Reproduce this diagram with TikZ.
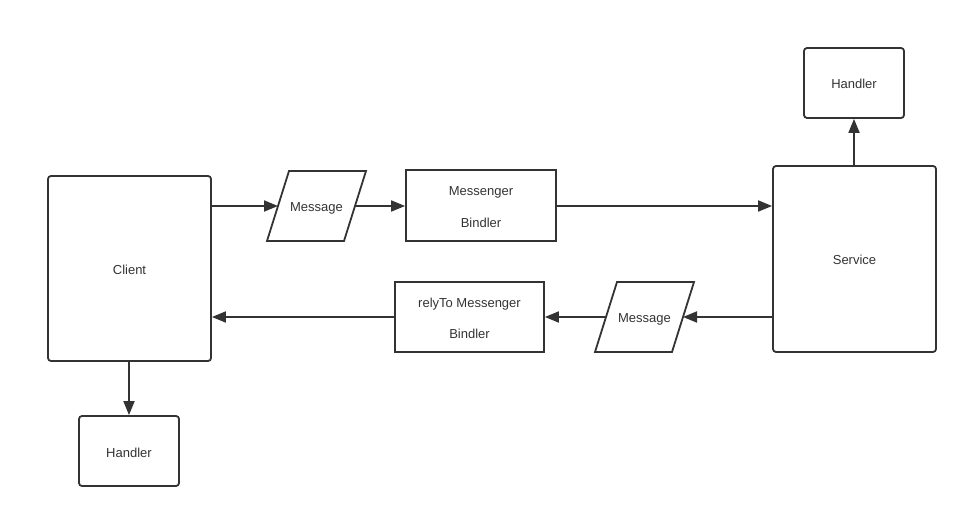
\documentclass[tikz,border=0pt]{standalone}
\usepackage{fontspec}
\setmainfont{Liberation Sans}
\usetikzlibrary{arrows.meta}
\definecolor{ink}{HTML}{333333}
\begin{document}
\begin{tikzpicture}[x=1pt,y=-1pt,
  base/.style={draw=ink,line width=1.8pt,text=ink,font=\fontsize{13}{14}\selectfont,inner sep=0pt,align=center,text height=12pt,text depth=0pt},
  rbox/.style={base,rectangle,rounded corners=3pt},
  sbox/.style={base,rectangle,text height=43.5pt},
  ptext/.style={base,draw=none,rectangle,minimum width=99,minimum height=70},
  pshape/.style={draw=ink,line width=1.8pt,line join=miter},
  conn/.style={draw=ink,line width=1.8pt,-{Triangle[length=14pt,width=11pt]}}]
\useasboundingbox (0,0) rectangle (968,518);
\node[rbox,minimum width=163,minimum height=185] (client) at (129.5,268.5) {Client};
\node[rbox,minimum width=100,minimum height=70] (hb) at (129,451) {Handler};
\node[ptext] (m1) at (316.5,206) {Message};
\draw[pshape] ([xshift=-49.5pt,yshift=-35pt]m1.center) -- ([xshift=27.5pt,yshift=-35pt]m1.center)
  -- ([xshift=49.5pt,yshift=35pt]m1.center) -- ([xshift=-27.5pt,yshift=35pt]m1.center) -- cycle;
\coordinate (m1in) at ([xshift=-38.5pt]m1.center);
\coordinate (m1out) at ([xshift=38.5pt]m1.center);
\node[sbox,minimum width=150,minimum height=71] (mb) at (481,205.5) {Messenger\\[17.5pt]Bindler};
\node[rbox,minimum width=163,minimum height=186] (svc) at (854.5,259) {Service};
\node[rbox,minimum width=100,minimum height=70] (ht) at (854,83) {Handler};
\node[sbox,minimum width=149,minimum height=70] (rb) at (469.5,317) {relyTo Messenger\\[17.5pt]Bindler};
\node[ptext] (m2) at (644.5,317) {Message};
\draw[pshape] ([xshift=-49.5pt,yshift=-35pt]m2.center) -- ([xshift=27.5pt,yshift=-35pt]m2.center)
  -- ([xshift=49.5pt,yshift=35pt]m2.center) -- ([xshift=-27.5pt,yshift=35pt]m2.center) -- cycle;
\coordinate (m2in) at ([xshift=38.5pt]m2.center);
\coordinate (m2out) at ([xshift=-38.5pt]m2.center);
\draw[conn] (client.east |- m1) -- (m1in);
\draw[conn] (m1out) -- (mb.west |- m1);
\draw[conn] (mb.east |- m1) -- (svc.west |- m1);
\draw[conn] (svc.west |- m2) -- (m2in);
\draw[conn] (m2out) -- (rb.east |- m2);
\draw[conn] (rb) -- (rb -| client.east);
\draw[conn] (hb.north |- client.south) -- (hb.north);
\draw[conn] (ht.south |- svc.north) -- (ht.south);
\end{tikzpicture}
\end{document}
